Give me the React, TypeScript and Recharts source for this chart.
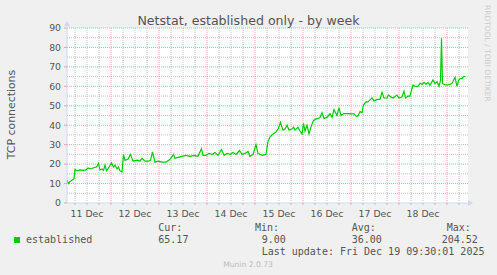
import { LineChart, Line, XAxis, YAxis, CartesianGrid, ReferenceLine } from "recharts";

// hours since 11 Dec 00:00
const hours = [
  2, 2.75, 3.5, 4.75, 5.5, 6, 7, 8.5, 10, 11.5, 12.5, 14, 15, 16.75, 17.75, 18.5, 19.5, 20.25, 21, 21.75,
  22.75, 24.25, 25.25, 26, 27, 27.75, 28.5, 29.5, 30.25, 31, 32.5, 33.75, 35, 37, 38.5, 39.5, 41, 42.75, 43.75, 44.75,
  46, 47.5, 49.5, 51.5, 53.5, 55.25, 56, 57.5, 59.5, 61.5, 63.5, 65.5, 67.5, 69.25, 70, 71.5, 73, 74.5, 76, 77.5,
  79.25, 80.5, 82, 83.5, 85, 86.5, 88.25, 89.5, 91, 92.5, 93.5, 95, 96.5, 97.5, 98.5, 100, 101.5, 102.5, 103.5, 105,
  106.5, 107.5, 108.75, 110, 111, 112, 113, 114.5, 115.25, 116, 117.5, 118.5, 119.5, 120.25, 121, 122, 123, 124, 125, 126,
  127.5, 128.5, 129.5, 130.5, 132, 133.5, 134.5, 135.5, 137, 138, 139, 140.5, 142.5, 144, 145.5, 146.5, 147.5, 148.5, 149.5, 150.25,
  151.5, 152.5, 153.5, 154.5, 155.5, 157, 158.5, 159.5, 160.5, 162, 162.75, 164, 165, 167, 168, 169.5, 170.5, 171.25, 172.5, 173.5,
  174.25, 175, 176, 177.5, 178.5, 179.5, 180.5, 181.5, 182.5, 183.5, 185, 186, 187, 188, 188.75, 189.25, 189.75, 191, 192.5, 193.5,
  194.5, 196, 197, 197.75, 198.5, 199.5, 200.25, 201.25,
];

const established = [
  11.8, 10, 11, 12, 12.5, 17.3, 16.5, 17, 16.8, 17, 18, 17.5, 18, 18.5, 20.4, 17, 17.5, 16.8, 19.5, 16.5,
  18, 20.7, 18.5, 19.5, 17.5, 18.5, 16.5, 16, 25, 22, 22.5, 25, 21.5, 22, 21.5, 23, 21.5, 21.5, 22, 26.3,
  21, 21.5, 21, 21, 22.5, 25, 23, 23.5, 24, 24.5, 24, 24.5, 24, 28, 24.5, 24.5, 25.5, 25, 26, 24.5,
  27.5, 24.5, 25.5, 25, 26, 25, 27, 25, 25.5, 26.5, 24, 25, 30, 25.5, 25, 24.5, 25, 31.5, 34, 35.5,
  36.5, 38, 41.5, 37.5, 38, 40, 37.5, 38, 39, 37.5, 39, 37, 35.5, 41, 37, 40, 35.5, 39, 42, 43,
  43.5, 44, 46.5, 43.5, 44, 46, 44, 48, 45, 49, 45, 46, 46, 45.8, 45.8, 44.7, 44.7, 47, 46.5, 50.4,
  52, 52, 53, 54, 52.5, 53.3, 53.3, 57, 54, 54, 55.5, 54.5, 54, 55.5, 54, 54.5, 57.5, 54, 55, 55,
  58, 60.7, 60, 60, 61.6, 61, 62, 61, 62, 60.5, 63.3, 61.5, 62.5, 60, 63, 84.7, 61.5, 60.8, 60.8, 61,
  61.5, 64.6, 60, 63, 64, 64, 65, 65.2,
];

const dayTicks = [12, 36, 60, 84, 108, 132, 156, 180];
const dayLabels = ["11 Dec", "12 Dec", "13 Dec", "14 Dec", "15 Dec", "16 Dec", "17 Dec", "18 Dec"];
const yTicks = [0, 10, 20, 30, 40, 50, 60, 70, 80, 90];

const statLabels = ["Cur:", "Min:", "Avg:", "Max:"];
const statValues = ["65.17", "9.00", "36.00", "204.52"];
const statLabelX = [158.3, 255, 351.7, 446.7];
const statValueX = [158.3, 261.7, 351.7, 441.7];

const data = hours.map((h, i) => ({ hour: h, value: established[i] }));

const sixHours = Array.from({ length: 33 }, (_, i) => (i + 1) * 6);
const minorV = sixHours.filter((h) => h % 24 !== 0);
const majorV = sixHours.filter((h) => h % 24 === 0);
const minorH = [5, 15, 25, 35, 45, 55, 65, 75, 85];
const majorH = [10, 20, 30, 40, 50, 60, 70, 80, 90];

const GRID = "#c4c4c4";
const MGRID = "#eba3a3";
const AXIS = "#CFD6F8";
const FONT = "#555555";

const HourTick = (props: any) => {
  const { x, y, payload } = props;
  const h = payload.value;
  const i = dayTicks.indexOf(h);
  return (
    <g>
      <line x1={x} x2={x} y1={y - 6} y2={y - 4} stroke={h % 24 === 0 ? MGRID : GRID} />
      {i >= 0 && (
        <text x={x} y={y} dy={7.5} textAnchor="middle" fill={FONT} fontSize={9.3}>
          {dayLabels[i]}
        </text>
      )}
    </g>
  );
};

export default function App() {
  return (
    <div style={{ position: "absolute", left: 0, top: 0, width: 497, height: 275, background: "#f0f0f0", fontFamily: "DejaVu Sans" }}>
      <LineChart width={497} height={275} data={data} margin={{ top: 28, right: 29, bottom: 0, left: 0 }}>
        <CartesianGrid fill="#ffffff" fillOpacity={1} stroke="none" />
        {minorH.map((v) => (
          <ReferenceLine key={"mh" + v} y={v} stroke={GRID} strokeDasharray="1 1" />
        ))}
        {minorV.map((h) => (
          <ReferenceLine key={"mv" + h} x={h} stroke={GRID} strokeDasharray="1 1" />
        ))}
        {majorH.map((v) => (
          <ReferenceLine key={"Mh" + v} y={v} stroke={MGRID} strokeDasharray="1 1" />
        ))}
        {majorV.map((h) => (
          <ReferenceLine key={"Mv" + h} x={h} stroke={MGRID} strokeDasharray="1 1" />
        ))}
        <XAxis
          type="number"
          dataKey="hour"
          domain={[2, 202.5]}
          ticks={sixHours}
          interval={0}
          tick={<HourTick />}
          tickLine={false}
          tickSize={6}
          tickMargin={0}
          axisLine={{ stroke: AXIS }}
          height={72}
          allowDataOverflow
        />
        <YAxis
          type="number"
          domain={[0, 90]}
          ticks={yTicks}
          interval={0}
          width={67}
          tick={{ fill: FONT, fontSize: 9.3 }}
          tickLine={{ stroke: MGRID }}
          tickSize={3}
          tickMargin={3}
          axisLine={{ stroke: AXIS }}
        />
        <Line
          type="linear"
          dataKey="value"
          stroke="#00cc00"
          strokeWidth={1.2}
          dot={false}
          isAnimationActive={false}
        />
      </LineChart>
      <svg width={497} height={275} style={{ position: "absolute", left: 0, top: 0, pointerEvents: "none" }}>
        <text x={248.5} y={24.5} textAnchor="middle" fill={FONT} fontSize={12.6}>
          Netstat, established only - by week
        </text>
        <text transform="translate(15,114.5) rotate(-90)" textAnchor="middle" fill={FONT} fontSize={10.9}>
          TCP connections
        </text>
        <text transform="translate(485,5) rotate(90)" fill="#cccccc" fontSize={7.5}>
          RRDTOOL / TOBI OETIKER
        </text>
        <line x1={67} x2={67} y1={28} y2={25} stroke={AXIS} />
        <polygon points="64,26 70,26 67,21" fill={AXIS} />
        <polygon points="468,200 468,206 473,203" fill={AXIS} />
        <rect x={14} y={237} width={6} height={6} fill="#00cc00" />
        <g fontFamily="DejaVu Sans Mono" fontSize={10} fill={FONT}>
          <text x={26} y={242.8}>established</text>
          {statLabels.map((s, i) => (
            <text key={s} x={statLabelX[i]} y={230.8}>{s}</text>
          ))}
          {statValues.map((s, i) => (
            <text key={s} x={statValueX[i]} y={242.8}>{s}</text>
          ))}
          <text x={261.7} y={254.8}>Last update: Fri Dec 19 09:30:01 2025</text>
        </g>
        <text x={248} y={266.5} textAnchor="middle" fill="#bbbbbb" fontSize={7.6}>
          Munin 2.0.73
        </text>
      </svg>
    </div>
  );
}
